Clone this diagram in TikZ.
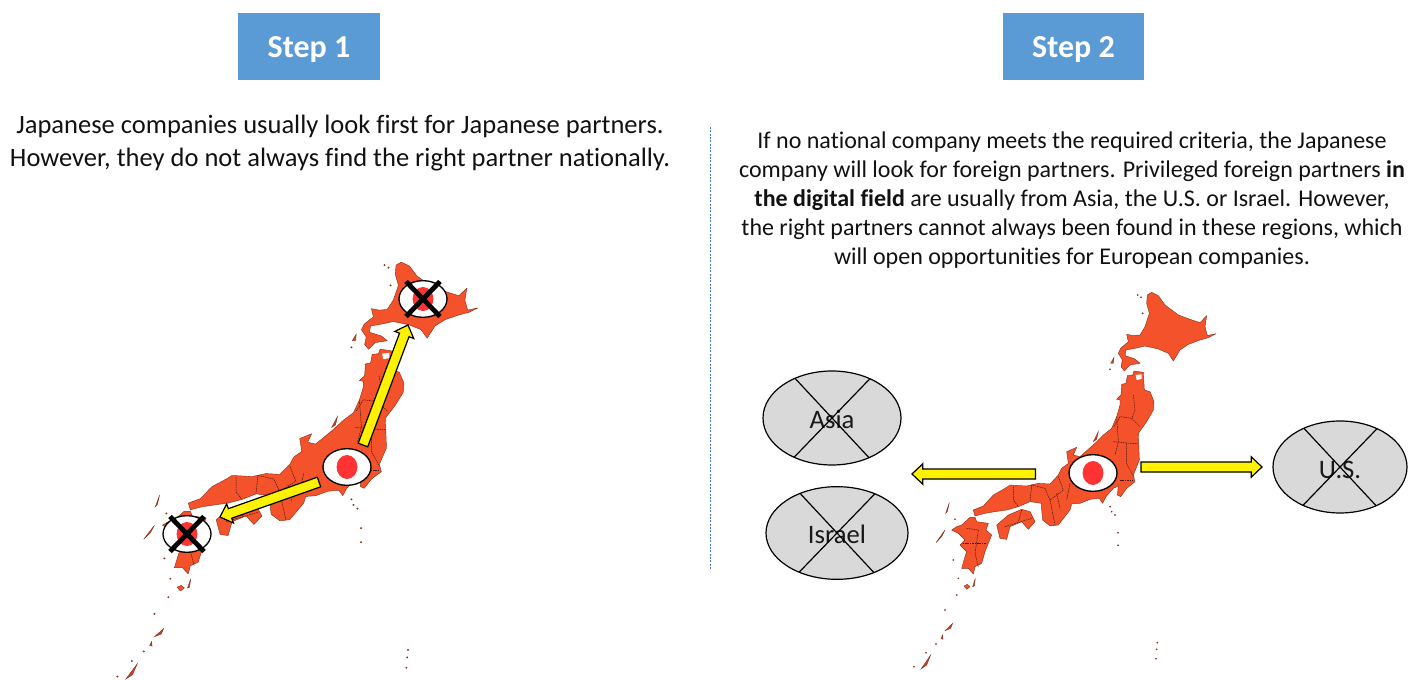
\documentclass[tikz,border=0pt]{standalone}
\usepackage{fontspec}
\setmainfont{Carlito}[Ligatures=NoCommon,RawFeature={-liga;-clig;-dlig}]
\usetikzlibrary{shapes.geometric,calc}
\definecolor{japanred}{HTML}{F4522B}
\definecolor{stepblue}{HTML}{5B9BD5}
\definecolor{dotred}{HTML}{FF3333}
\definecolor{regiongrey}{HTML}{D9D9D9}
\definecolor{divider}{HTML}{4472C4}
\definecolor{bodytext}{HTML}{111111}
\tikzset{
 stepbox/.style={fill=stepblue,text=white,minimum width=106pt,minimum height=50.5pt,inner sep=0pt,outer sep=0pt,font=\bfseries\fontsize{24}{28}\selectfont},
 bodyblock/.style={align=center,inner sep=0pt,text=bodytext},
 land/.style={fill=japanred,draw=black!45!japanred,line width=.3pt,line join=round},
 islet/.style={fill=black!20!japanred,draw=black!45!japanred,line width=.25pt},
 border/.style={draw=black!75!japanred,line width=.35pt,dash pattern=on 1.2pt off .6pt},
 flagoval/.style={ellipse,draw=black,fill=white,line width=1pt,minimum width=36pt,minimum height=27.5pt,inner sep=0pt,outer sep=0pt},
 sundot/.style={fill=dotred},
 crossout/.style={draw=black,line width=3.6pt},
 region/.style={ellipse,draw=black,fill=regiongrey,line width=.9pt,inner sep=0pt,outer sep=0pt,text=black!90,font=\fontsize{20}{24}\selectfont},
 crossline/.style={draw=black,line width=.9pt},
 blockarrow/.style={draw=black,fill=yellow,line width=.9pt,line join=miter},
}
\newcommand{\lowered}[2]{\raisebox{-#1}[0pt][0pt]{#2}}
\newcommand{\japanmap}{%
 % Hokkaido
 \path[land] (772,45)--(785,37)--(805,47)--(825,75)--(865,105)--(900,118)--(930,128)--(950,107)--(945,140)--(952,167)--(978,161)--(955,173)--(930,180)--(895,193)--(870,210)--(850,243)--(835,220)--(805,207)--(765,198)--(735,205)--(708,210)--(705,227)--(735,237)--(750,250)--(720,255)--(703,273)--(693,260)--(697,240)--(685,220)--(692,205)--(715,185)--(710,163)--(730,167)--(750,165)--(765,140)--(778,100)--(770,70)--cycle;
 % Honshu
 \path[land] (695,313)--(708,310)--(712,287)--(728,285)--(732,273)--(760,277)--(763,330)--(780,335)--(792,365)--(790,390)--(770,425)--(745,460)--(748,540)--(730,585)--(735,605)--(710,625)--(692,650)--(682,645)--(685,618)--(670,625)--(648,650)--(638,670)--(628,655)--(600,658)--(570,670)--(545,672)--(540,690)--(505,735)--(480,738)--(458,720)--(455,690)--(455,670)--(420,665)--(385,680)--(350,690)--(315,695)--(285,700)--(255,708)--(250,690)--(280,678)--(310,645)--(345,625)--(360,615)--(410,618)--(445,610)--(480,612)--(505,585)--(515,565)--(535,550)--(530,515)--(560,502)--(550,525)--(570,530)--(615,490)--(640,465)--(665,445)--(680,410)--(690,375)--(690,360)--(680,358)--(693,345)--cycle;
 \path[fill=white] (737,285)--(755,283)--(755,297)--(740,300)--cycle;
 % Shikoku
 \path[land] (320,735)--(355,705)--(395,688)--(420,695)--(435,725)--(415,748)--(395,725)--(360,740)--(350,778)--(330,775)--(325,755)--cycle;
 % Kyushu
 \path[land] (215,735)--(240,712)--(255,712)--(260,725)--(295,730)--(288,750)--(305,765)--(285,815)--(275,850)--(255,860)--(250,882)--(235,865)--(215,865)--(225,830)--(230,815)--(210,795)--(225,780)--(205,760)--(185,750)--(200,740)--cycle;
 % Islands
 \path[islet] (610,485)--(625,455)--(620,478)--cycle;
 \path[islet] (167,700)--(178,668)--(172,695)--cycle;
 \path[islet] (138,788)--(165,750)--(155,770)--cycle;
 \path[land] (222,918)--(232,913)--(240,920)--(230,928)--cycle;
 \path[islet] (248,920)--(256,895)--(253,918)--cycle;
 \path[islet] (165,1052)--(188,1030)--(182,1045)--cycle;
 \path[islet] (153,1075)--(158,1065)--(159,1078)--cycle;
 \path[islet] (93,1167)--(122,1125)--(110,1155)--cycle;
 \path[islet] (662,250)--(672,232)--(670,250)--cycle;
 \foreach \ix/\iy in {743/45,753/52,758/100,660/268,660/680,665/695,675/705,684/758,684/796,195/718,190/840,200/945,165/990,138/1092,108/1118,72/1160,800/1108,798/1136,802/1088,205/895}{\path[islet] (\ix,\iy) circle (2);}
 % Prefecture borders
 \path[border] (730,345)--(735,390)--(725,415)--(690,410)--(672,440);
 \path[border] (725,415)--(750,440);
 \path[border] (670,485)--(725,490)--(745,490);
 \path[border] (680,410)--(685,485)--(675,525);
 \path[border] (710,490)--(710,550)--(730,590);
 \path[border] (690,600)--(730,600);
 \path[border] (505,590)--(520,630)--(480,660)--(495,735);
 \path[border] (540,610)--(530,660);
 \path[border] (480,660)--(465,625)--(425,615)--(420,665);
 \path[border] (370,620)--(370,660)--(385,680);
 \path[border] (500,640)--(510,685);
 \path[border] (230,745)--(265,750)--(255,820)--(265,860);
 \path[border] (218,790)--(290,790);
 \path[border] (395,690)--(385,725);
 \path[border] (345,740)--(425,715);
}
\newcommand{\blockarrowpath}[2]{%
 \path[blockarrow]
  let \p1=($(#2)!8pt!(#1)$) in
  ($(#1)!3.8pt!90:(#2)$) -- ($(\p1)!3.8pt!90:(#2)$) -- ($(\p1)!7.6pt!90:(#2)$) -- (#2)
  -- ($(\p1)!7.6pt!-90:(#2)$) -- ($(\p1)!3.8pt!-90:(#2)$) -- ($(#1)!3.8pt!-90:(#2)$) -- cycle;
}
\newcommand{\sunflag}[3]{%
 \node[flagoval] (#1) at (#2,#3) {};
 \path[sundot] (#1.center) ellipse (7.8pt and 9pt);
}
\begin{document}
\begin{tikzpicture}[x=.75pt,y=-.75pt]
\useasboundingbox (0,0) rectangle (1424,680);

\begin{scope}[shift={(88.8,248.5)},x=.2985pt,y=-.27675pt]\japanmap\end{scope}
\begin{scope}[shift={(890,280)},x=.25pt,y=-.25pt]\japanmap\end{scope}

\node[stepbox] (stepone) at (309,46.5) {\lowered{7.9pt}{Step 1}};
\node[stepbox] (steptwo) at (1073.5,46.5) {\lowered{7.9pt}{Step 2}};

\node[bodyblock,font=\fontsize{19.9}{24.6}\selectfont] (textone) at (340,143) {Japanese companies usually look first for Japanese partners.\\However, they do not always find the right partner nationally.};
\node[bodyblock,font=\fontsize{18}{21.75}\selectfont] (texttwo) at (1072,200) {If no national company meets the required criteria, the Japanese\\company will look for foreign partners. Privileged foreign partners \textbf{in}\\\textbf{the digital field} are usually from Asia, the U.S. or Israel. However,\\the right partners cannot always been found in these regions, which\\will open opportunities for European companies.};

\coordinate (dividertop) at (710.5,127);
\coordinate (dividerbottom) at (710.5,570);
\draw[divider,line width=.6pt,dash pattern=on 1.5pt off 1pt] (dividertop) -- (dividerbottom);

% Step 1 flags and arrows
\sunflag{home}{347}{467}
\sunflag{north}{423}{299}
\sunflag{south}{187}{534}
\coordinate (homeN) at (363,445);
\coordinate (northT) at (408,325);
\coordinate (homeS) at (319,482);
\coordinate (southT) at (220,517);
\blockarrowpath{homeN}{northT}
\blockarrowpath{homeS}{southT}
\foreach \c in {north,south}{
 \draw[crossout] ($(\c)+(-17,-17.5)$) -- ($(\c)+(17,17.5)$);
 \draw[crossout] ($(\c)+(17,-17.5)$) -- ($(\c)+(-17,17.5)$);
}

% Step 2
\sunflag{hometwo}{1093}{473}
\node[region,minimum width=103.5pt,minimum height=70.5pt] (asia) at (832,418) {\lowered{8.2pt}{Asia}};
\node[region,minimum width=106.5pt,minimum height=69.5pt] (israel) at (837,533) {\lowered{8.2pt}{Israel}};
\node[region,minimum width=100.5pt,minimum height=69pt] (us) at (1340,467) {\lowered{9pt}{U.S.}};
\foreach \c in {asia,israel,us}{
 \draw[crossline] (\c.46.5) -- (\c.226.5);
 \draw[crossline] (\c.133.5) -- (\c.313.5);
}
\coordinate (leftS) at (1035.5,474);
\coordinate (leftT) at (912,474);
\coordinate (rightS) at (1141,467);
\coordinate (rightT) at (1262,467);
\blockarrowpath{leftS}{leftT}
\blockarrowpath{rightS}{rightT}
\end{tikzpicture}
\end{document}
